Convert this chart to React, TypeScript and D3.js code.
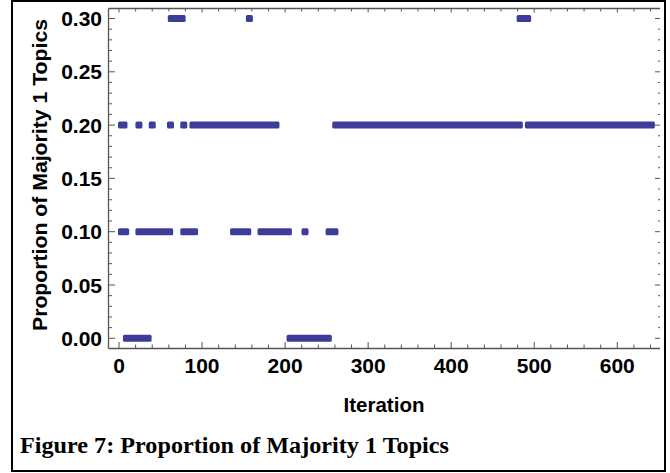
import React from "react";
import * as d3 from "d3";

// Runs of consecutive iterations [first, last] at each proportion level
const runsAt000: [number, number][] = [[9, 35], [206, 252]];
const runsAt010: [number, number][] = [[3, 8], [24, 61], [78, 91], [138, 155], [171, 204], [224, 224], [253, 260]];
const runsAt020: [number, number][] = [[3, 6], [24, 24], [40, 40], [62, 62], [78, 78], [89, 189], [261, 482], [493, 641]];
const runsAt030: [number, number][] = [[63, 76], [157, 157], [483, 492]];

const levels = [0, 0.1, 0.2, 0.3];
const runsByLevel = [runsAt000, runsAt010, runsAt020, runsAt030];

const xMajorTicks = [0, 100, 200, 300, 400, 500, 600];
const yMajorTicks = [0, 0.05, 0.1, 0.15, 0.2, 0.25, 0.3];

const xLabel = "Iteration";
const yLabel = "Proportion of Majority 1 Topics";
const caption = "Figure 7: Proportion of Majority 1 Topics";

export default function App() {
  const W = 670, H = 473;
  const left = 108.5, right = 660, top = 8.5, bottom = 348.5;
  const x = d3.scaleLinear().domain([0, 600]).range([119, 617.3]);
  const y = d3.scaleLinear().domain([0, 0.3]).range([338.3, 18.5]);

  const xMinor = d3.range(0, 660, 20).filter((v) => x(v) < right - 1 && !xMajorTicks.includes(v));
  const yMinor = d3.range(0, 31, 1).map((v) => v / 100).filter((v) => Math.round(v * 100) % 5 !== 0);

  const axisColor = "#555";
  const markColor = "#3d3d99";
  const ms = 7;
  const sans = "'Liberation Sans', Arial, sans-serif";

  return (
    <svg width={W} height={H} style={{ position: "absolute", left: 0, top: 0, background: "#fff" }}>
      <rect x={12} y={1} width={653} height={470} fill="#fff" stroke="#000" strokeWidth={2} />

      {/* frame lines */}
      <line x1={left} x2={left} y1={top} y2={bottom} stroke={axisColor} strokeWidth={1.3} />
      <line x1={left} x2={right} y1={bottom} y2={bottom} stroke={axisColor} strokeWidth={1.3} />
      <line x1={left} x2={right} y1={top} y2={top} stroke={axisColor} strokeWidth={1.3} />

      {/* x ticks bottom & top */}
      {xMajorTicks.map((v) => (
        <g key={"xm" + v}>
          <line x1={x(v)} x2={x(v)} y1={bottom} y2={bottom - 6.5} stroke={axisColor} />
          <line x1={x(v)} x2={x(v)} y1={top} y2={top + 4} stroke={axisColor} />
          <text x={x(v)} y={373} textAnchor="middle" fontFamily={sans} fontWeight="bold" fontSize={21} fill="#000">
            {v}
          </text>
        </g>
      ))}
      {xMinor.map((v) => (
        <g key={"xn" + v}>
          <line x1={x(v)} x2={x(v)} y1={bottom} y2={bottom - 4} stroke={axisColor} />
          <line x1={x(v)} x2={x(v)} y1={top} y2={top + 3} stroke={axisColor} />
        </g>
      ))}

      {/* y ticks left & right */}
      {yMajorTicks.map((v) => (
        <g key={"ym" + v}>
          <line x1={left} x2={left + 6.5} y1={y(v)} y2={y(v)} stroke={axisColor} />
          <line x1={right} x2={right - 5} y1={y(v)} y2={y(v)} stroke={axisColor} />
          <text x={102} y={y(v)} dy="0.36em" textAnchor="end" fontFamily={sans} fontWeight="bold" fontSize={21} fill="#000">
            {d3.format(".2f")(v)}
          </text>
        </g>
      ))}
      {yMinor.map((v) => (
        <g key={"yn" + v}>
          <line x1={left} x2={left + 3.5} y1={y(v)} y2={y(v)} stroke={axisColor} />
          <line x1={right} x2={right - 2} y1={y(v)} y2={y(v)} stroke={axisColor} />
        </g>
      ))}

      {/* data marks */}
      {runsByLevel.map((runs, li) =>
        runs.map(([a, b], i) => (
          <rect
            key={li + "-" + i}
            x={x(a) - ms / 2}
            y={y(levels[li]) - ms / 2}
            width={x(b) - x(a) + ms}
            height={ms}
            rx={1.5}
            fill={markColor}
          />
        ))
      )}

      {/* axis labels */}
      <text x={384} y={412} textAnchor="middle" fontFamily={sans} fontWeight="bold" fontSize={20.5} fill="#000">
        {xLabel}
      </text>
      <text
        transform="translate(47,175) rotate(-90)"
        textAnchor="middle"
        fontFamily={sans}
        fontWeight="bold"
        fontSize={21}
        fill="#000"
        textLength={312}
        lengthAdjust="spacingAndGlyphs"
      >
        {yLabel}
      </text>

      <text
        x={20}
        y={453}
        fontFamily="'Liberation Serif', 'Times New Roman', serif"
        fontWeight="bold"
        fontSize={22.5}
        fill="#000"
        textLength={429}
        lengthAdjust="spacingAndGlyphs"
      >
        {caption}
      </text>
    </svg>
  );
}
